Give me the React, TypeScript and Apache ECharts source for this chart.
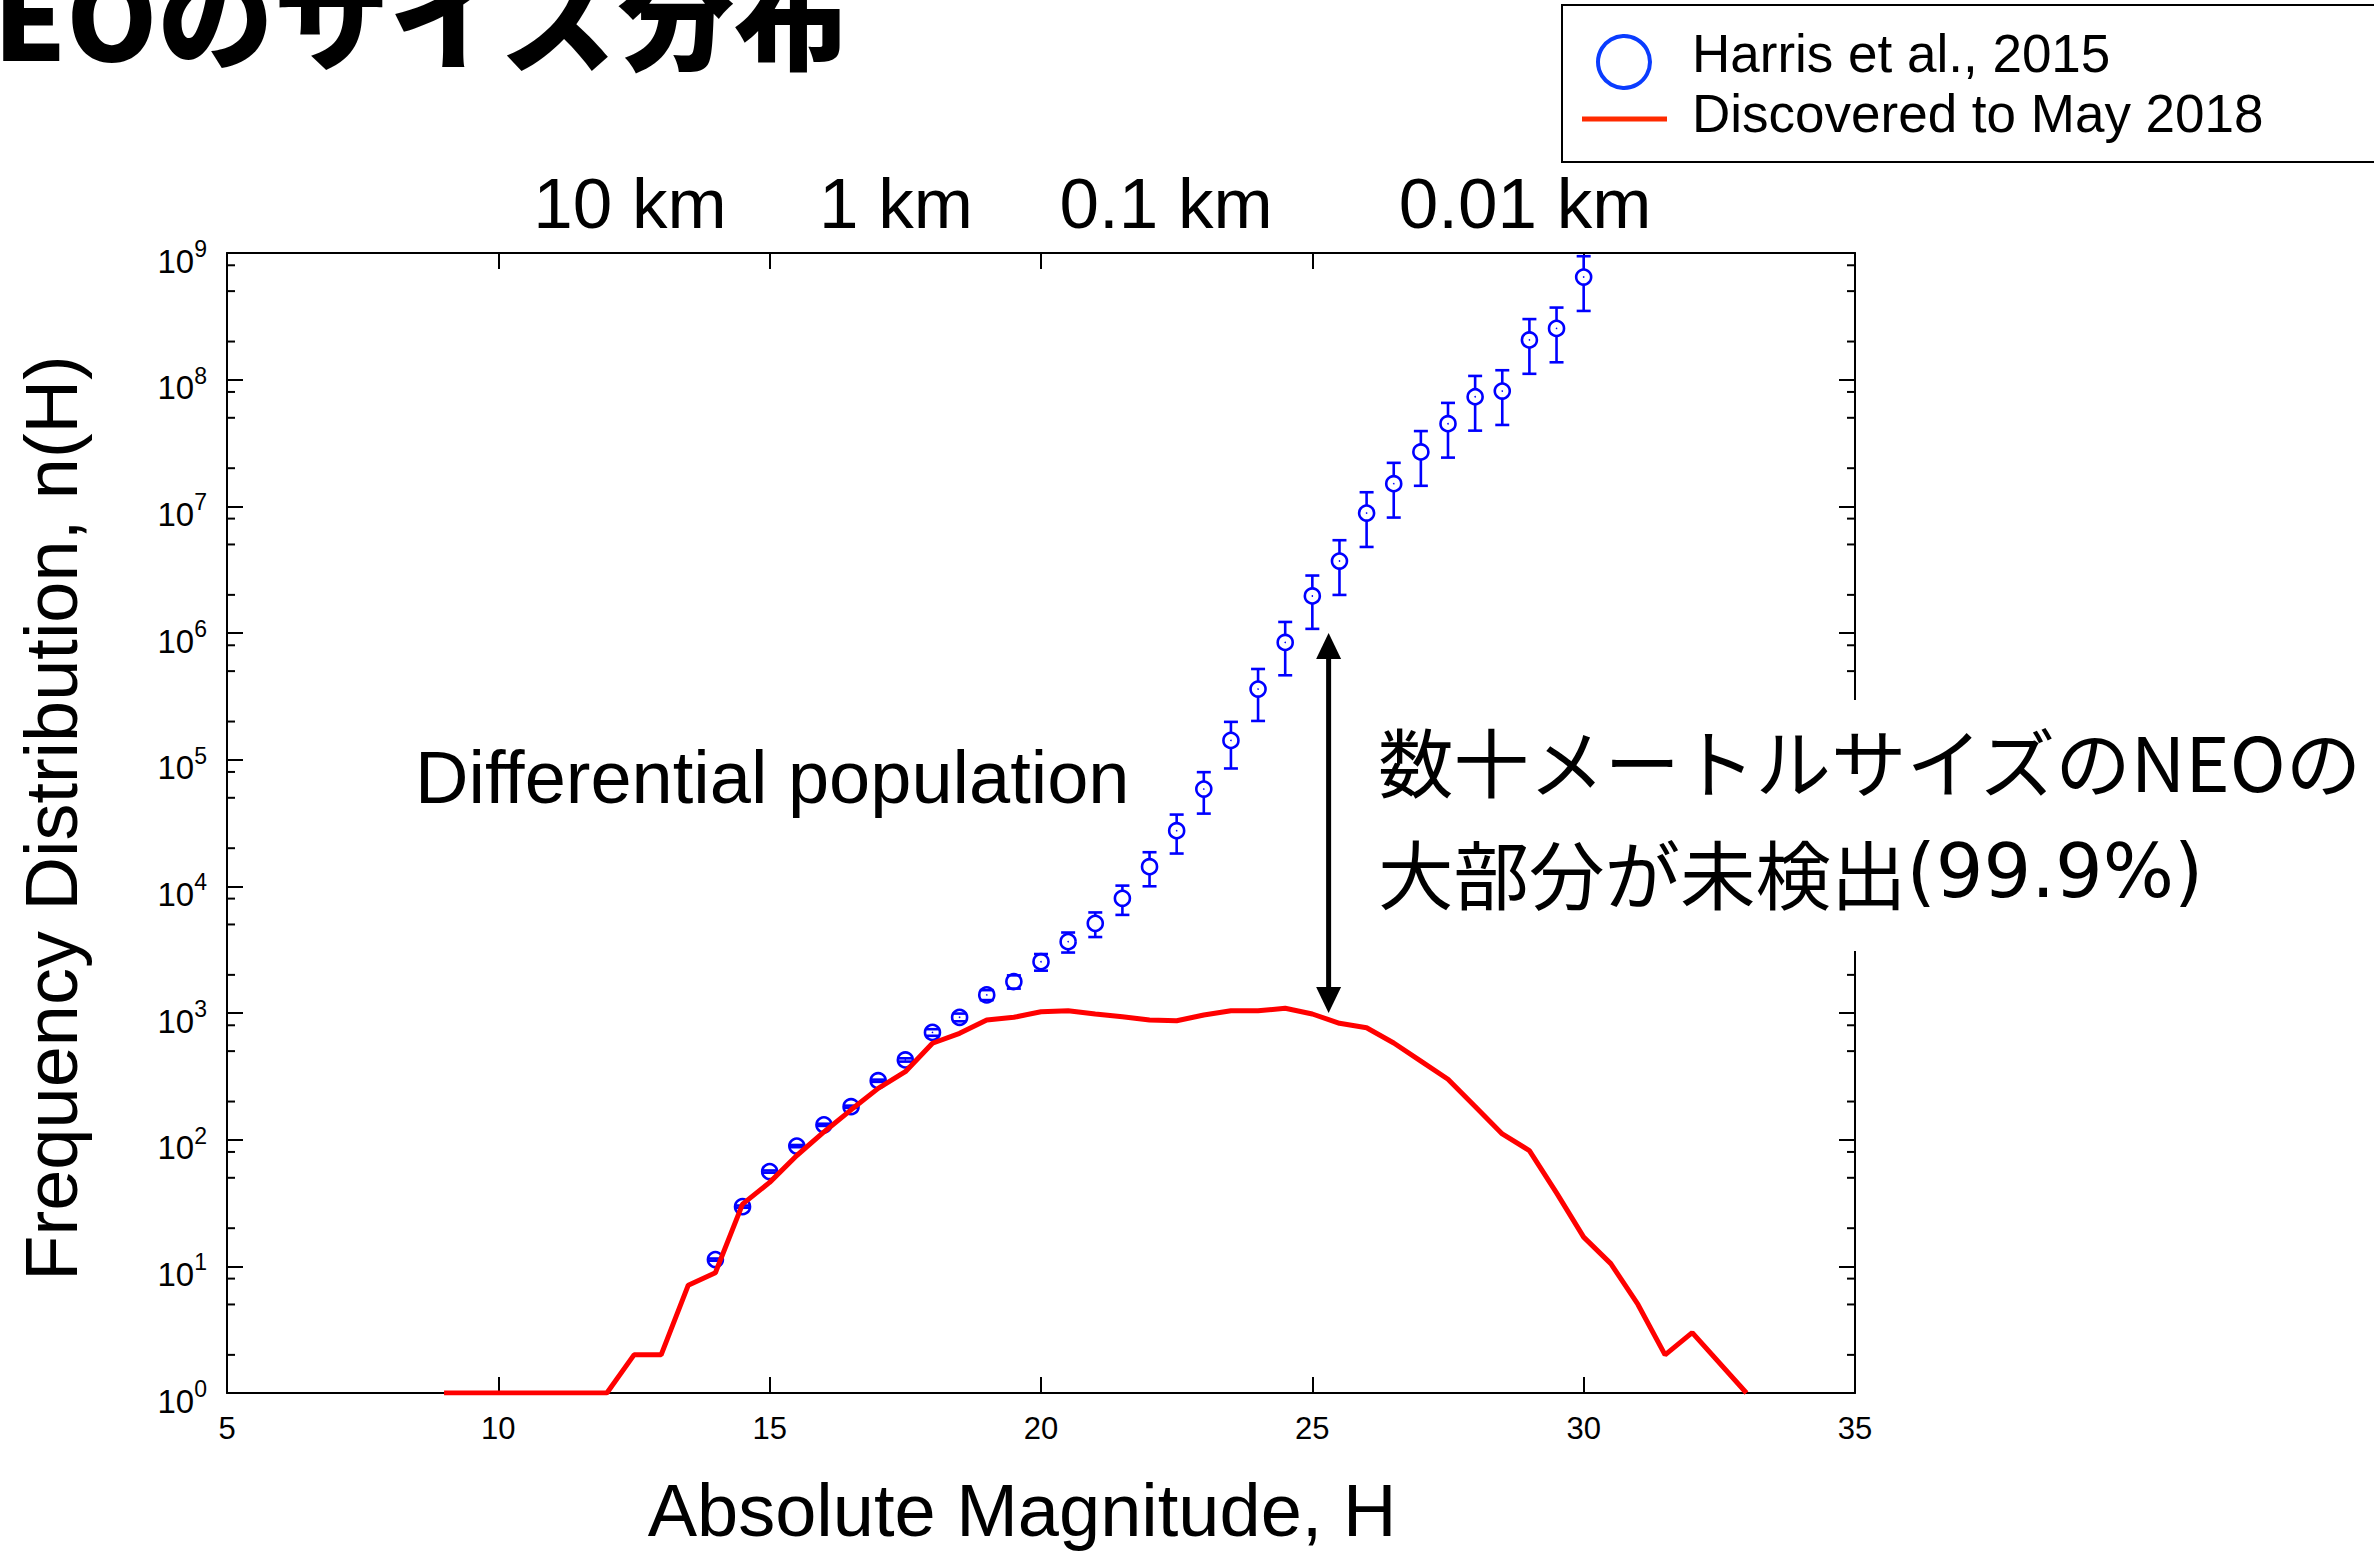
import React, { useEffect, useRef } from 'react';
import * as echarts from 'echarts';

// Harris et al., 2015 estimated population (H, n(H), relative error)
const harrisH = [14, 14.5, 15, 15.5, 16, 16.5, 17, 17.5, 18, 18.5, 19, 19.5, 20, 20.5, 21, 21.5, 22, 22.5, 23, 23.5, 24, 24.5, 25, 25.5, 26, 26.5, 27, 27.5, 28, 28.5, 29, 29.5, 30];
const harrisN = [11.3, 29.6, 56, 89, 131, 182, 292, 426, 703, 925, 1390, 1770, 2540, 3660, 5100, 8040, 14300, 27500, 58600, 142000, 361000, 843000, 1960000, 3700000, 8850000, 15100000, 26900000, 44900000, 73300000, 81300000, 206000000, 254000000, 646000000];
const harrisErr = [0.02, 0.02, 0.02, 0.02, 0.02, 0.02, 0.02, 0.03, 0.06, 0.07, 0.09, 0.12, 0.15, 0.18, 0.22, 0.26, 0.3, 0.34, 0.36, 0.4, 0.44, 0.45, 0.45, 0.46, 0.46, 0.46, 0.46, 0.46, 0.46, 0.46, 0.46, 0.46, 0.46];

// Discovered to May 2018
const redH = [9, 9.5, 10, 10.5, 11, 11.5, 12, 12.5, 13, 13.5, 14, 14.5, 15, 15.5, 16, 16.5, 17, 17.5, 18, 18.5, 19, 19.5, 20, 20.5, 21, 21.5, 22, 22.5, 23, 23.5, 24, 24.5, 25, 25.5, 26, 26.5, 27, 27.5, 28, 28.5, 29, 29.5, 30, 30.5, 31, 31.5, 32, 33];
const redN = [1, 1, 1, 1, 1, 1, 1, 2, 2, 7.1, 8.9, 31, 46, 75, 115, 172, 254, 344, 577, 691, 881, 925, 1024, 1043, 982, 935, 881, 869, 964, 1043, 1043, 1089, 982, 829, 765, 580, 417, 300, 183, 111, 82, 38, 17, 10.5, 5, 2, 3, 1];

// annotation arrow (H, from, to)
const arrowH = [25.3];
const arrowFrom = [1000];
const arrowTo = [1000000];

// axis settings
const xMin = 5;
const xMax = 35;
const xInterval = 5;
const yMin = 1;
const yMax = 1e9;
const minorMultipliers = [2, 5, 8];
const decades = [1, 10, 100, 1e3, 1e4, 1e5, 1e6, 1e7, 1e8];

const sizeLabels = ['10 km', '1 km', '0.1 km', '0.01 km'];
const legendNames = ['Harris et al., 2015', 'Discovered to May 2018'];
const noteLine1 = '数十メートルサイズのNEOの';
const noteLine2Jp = '大部分が未検出';
const noteLine2Pct = '(99.9%)';

const SANS = 'Arial, "Liberation Sans", Helvetica, sans-serif';
const CJK = '"Noto Sans CJK JP", "Noto Sans CJK SC", sans-serif';

export default function App() {
  const ref = useRef<HTMLDivElement>(null);
  useEffect(() => {
    if (!ref.current) return;
    const chart = echarts.init(ref.current, undefined, { renderer: 'svg' });
    const minorTicks: number[] = [];
    decades.forEach((d) => minorMultipliers.forEach((m) => minorTicks.push(m * d)));

    const axisLineStyle = { color: '#000', width: 2 };
    const option: any = {
      animation: false,
      backgroundColor: '#fff',
      grid: { left: 227, top: 253, width: 1628, height: 1140, containLabel: false },
      xAxis: [
        {
          type: 'value', min: xMin, max: xMax, interval: xInterval, position: 'bottom',
          axisLine: { show: true, onZero: false, lineStyle: axisLineStyle },
          axisTick: { show: true, inside: true, length: 16, lineStyle: { color: '#000', width: 2 } },
          axisLabel: { show: true, fontSize: 31, fontFamily: SANS, color: '#000', margin: 20 },
          splitLine: { show: false },
        },
        {
          type: 'value', min: xMin, max: xMax, interval: xInterval, position: 'top',
          axisLine: { show: true, onZero: false, lineStyle: axisLineStyle },
          axisTick: { show: true, inside: true, length: 16, lineStyle: { color: '#000', width: 2 } },
          axisLabel: { show: false },
          splitLine: { show: false },
        },
      ],
      yAxis: [
        {
          type: 'log', logBase: 10, min: yMin, max: yMax, splitNumber: 9, position: 'left',
          axisLine: { show: true, onZero: false, lineStyle: axisLineStyle },
          axisTick: { show: true, inside: true, length: 16, lineStyle: { color: '#000', width: 2 } },
          axisLabel: {
            show: true, margin: 20, padding: [9, 0, 0, 0],
            formatter: (v: number) => '{b|10}{s|' + Math.round(Math.log10(v)) + '}',
            rich: {
              b: { fontSize: 33, fontFamily: SANS, color: '#000', lineHeight: 40, verticalAlign: 'bottom' },
              s: { fontSize: 23, fontFamily: SANS, color: '#000', lineHeight: 12, verticalAlign: 'top' },
            },
          },
          splitLine: { show: false },
        },
        {
          type: 'log', logBase: 10, min: yMin, max: yMax, splitNumber: 9, position: 'right',
          axisLine: { show: true, onZero: false, lineStyle: axisLineStyle },
          axisTick: { show: true, inside: true, length: 16, lineStyle: { color: '#000', width: 2 } },
          axisLabel: { show: false },
          splitLine: { show: false },
        },
      ],
      series: [
        {
          name: 'minor ticks',
          type: 'custom',
          xAxisIndex: 0, yAxisIndex: 0, silent: true, z: 3,
          data: minorTicks.map((v) => [xMin, v]),
          renderItem: (params: any, api: any) => {
            const y = api.coord([xMin, api.value(1)])[1];
            const cs = params.coordSys;
            const st = { stroke: '#000', lineWidth: 2 };
            return {
              type: 'group',
              children: [
                { type: 'line', shape: { x1: cs.x, y1: y, x2: cs.x + 8, y2: y }, style: st },
                { type: 'line', shape: { x1: cs.x + cs.width - 8, y1: y, x2: cs.x + cs.width, y2: y }, style: st },
              ],
            };
          },
        },
        {
          name: legendNames[0],
          type: 'custom',
          xAxisIndex: 0, yAxisIndex: 0, z: 5, silent: true,
          data: harrisH.map((h, i) => [h, harrisN[i], harrisN[i] * (1 - harrisErr[i]), harrisN[i] * (1 + harrisErr[i])]),
          encode: { x: 0, y: 1 },
          renderItem: (params: any, api: any) => {
            const p = api.coord([api.value(0), api.value(1)]);
            const cx = p[0];
            const cy = p[1];
            const yHi = api.coord([api.value(0), api.value(3)])[1];
            const yLo = api.coord([api.value(0), api.value(2)])[1];
            const r = 7.5;
            const cap = 7;
            const st = { stroke: '#0000ff', lineWidth: 2.6, fill: null };
            const children: any[] = [
              { type: 'circle', shape: { cx, cy, r }, style: { stroke: '#0000ff', lineWidth: 2.6, fill: 'none' } },
              { type: 'circle', shape: { cx, cy, r: 0.8 }, style: { fill: '#0000ff' } },
              { type: 'line', shape: { x1: cx - cap, y1: yHi, x2: cx + cap, y2: yHi }, style: st },
              { type: 'line', shape: { x1: cx - cap, y1: yLo, x2: cx + cap, y2: yLo }, style: st },
            ];
            if (yHi < cy - r) children.push({ type: 'line', shape: { x1: cx, y1: yHi, x2: cx, y2: cy - r }, style: st });
            if (yLo > cy + r) children.push({ type: 'line', shape: { x1: cx, y1: cy + r, x2: cx, y2: yLo }, style: st });
            return { type: 'group', children };
          },
        },
        {
          name: legendNames[1],
          type: 'line',
          xAxisIndex: 0, yAxisIndex: 0, z: 6, silent: true,
          data: redH.map((h, i) => [h, redN[i]]),
          showSymbol: false, symbol: 'none',
          lineStyle: { color: '#ff0000', width: 5 },
        },
        {
          name: 'arrow',
          type: 'custom',
          xAxisIndex: 0, yAxisIndex: 0, z: 7, silent: true,
          data: arrowH.map((h, i) => [h, arrowFrom[i], arrowTo[i]]),
          renderItem: (params: any, api: any) => {
            const top = api.coord([api.value(0), api.value(2)]);
            const bot = api.coord([api.value(0), api.value(1)]);
            const x = top[0];
            const hl = 26;
            const hw = 12.5;
            return {
              type: 'group',
              children: [
                { type: 'line', shape: { x1: x, y1: top[1] + hl - 2, x2: x, y2: bot[1] - hl + 2 }, style: { stroke: '#000', lineWidth: 5 } },
                { type: 'polygon', shape: { points: [[x, top[1]], [x - hw, top[1] + hl], [x + hw, top[1] + hl]] }, style: { fill: '#000' } },
                { type: 'polygon', shape: { points: [[x, bot[1]], [x - hw, bot[1] - hl], [x + hw, bot[1] - hl]] }, style: { fill: '#000' } },
              ],
            };
          },
        },
      ],
      graphic: [
        // title (partly off page, as in the source slide)
        { type: 'text', x: 850, y: 10, z: 60, style: { text: 'NEOのサイズ分布', fontFamily: CJK, fontWeight: 900, fontSize: 116, fill: '#000', align: 'right', textAlign: 'right', verticalAlign: 'middle', textVerticalAlign: 'middle' } },
        // legend
        { type: 'rect', z: 60, shape: { x: 1562, y: 5, width: 900, height: 157 }, style: { fill: '#fff', stroke: '#000', lineWidth: 2 } },
        { type: 'circle', z: 61, shape: { cx: 1624, cy: 62, r: 26 }, style: { fill: 'none', stroke: '#0a3cff', lineWidth: 4 } },
        { type: 'line', z: 61, shape: { x1: 1582, y1: 119, x2: 1667, y2: 119 }, style: { stroke: '#ff2a00', lineWidth: 5 } },
        { type: 'text', z: 61, x: 1692, y: 53, style: { text: legendNames[0], fontFamily: SANS, fontSize: 53, fill: '#000', align: 'left', textAlign: 'left', verticalAlign: 'middle', textVerticalAlign: 'middle' } },
        { type: 'text', z: 61, x: 1692, y: 113, style: { text: legendNames[1], fontFamily: SANS, fontSize: 53, fill: '#000', align: 'left', textAlign: 'left', verticalAlign: 'middle', textVerticalAlign: 'middle' } },
        // size labels above plot
        ...[630, 896, 1166, 1525].map((x, i) => ({ type: 'text', z: 60, x, y: 203, style: { text: sizeLabels[i], fontFamily: SANS, fontSize: 71, fill: '#000', align: 'center', textAlign: 'center', verticalAlign: 'middle', textVerticalAlign: 'middle' } })),
        // axis titles
        { type: 'text', z: 60, x: 51, y: 818, rotation: Math.PI / 2, style: { text: 'Frequency Distribution, n(H)', fontFamily: SANS, fontSize: 74, fill: '#000', align: 'center', textAlign: 'center', verticalAlign: 'middle', textVerticalAlign: 'middle' } },
        { type: 'text', z: 60, x: 1022, y: 1510, style: { text: 'Absolute Magnitude, H', fontFamily: SANS, fontSize: 74, fill: '#000', align: 'center', textAlign: 'center', verticalAlign: 'middle', textVerticalAlign: 'middle' } },
        // annotation
        { type: 'text', z: 60, x: 415, y: 777, style: { text: 'Differential population', fontFamily: SANS, fontSize: 74, fill: '#000', align: 'left', textAlign: 'left', verticalAlign: 'middle', textVerticalAlign: 'middle' } },
        { type: 'rect', z: 60, shape: { x: 1370, y: 700, width: 1004, height: 251 }, style: { fill: '#fff' } },
        { type: 'text', z: 61, x: 1378, y: 759, style: { text: noteLine1, fontFamily: CJK, fontSize: 75.5, fill: '#000', align: 'left', textAlign: 'left', verticalAlign: 'middle', textVerticalAlign: 'middle' } },
        {
          type: 'text', z: 61, x: 1378, y: 871,
          style: {
            text: '{c|' + noteLine2Jp + '}{l|' + noteLine2Pct + '}',
            align: 'left', textAlign: 'left', verticalAlign: 'middle', textVerticalAlign: 'middle',
            rich: {
              c: { fontFamily: CJK, fontSize: 75.5, fill: '#000', color: '#000', lineHeight: 90 },
              l: { fontFamily: '"DejaVu Sans", sans-serif', fontSize: 75, fill: '#000', color: '#000', lineHeight: 90 },
            },
          },
        },
      ],
    };
    chart.setOption(option);
    return () => chart.dispose();
  }, []);
  return <div ref={ref} style={{ position: 'absolute', left: 0, top: 0, width: 2374, height: 1553, background: '#fff' }} />;
}
